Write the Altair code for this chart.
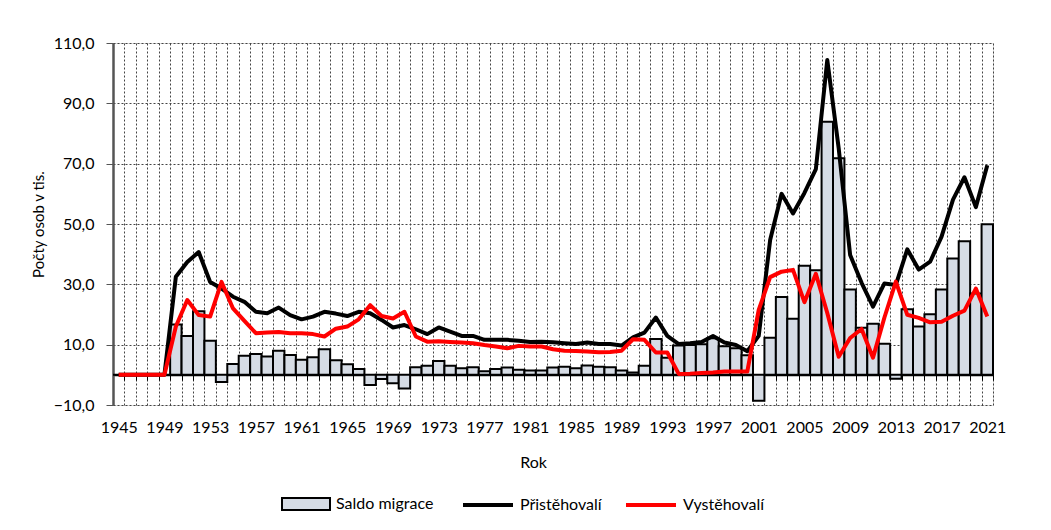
import altair as alt
import pandas as pd

years = list(range(1945, 2022))

saldo = [0, 0, 0, 0, 0,
         16.7, 12.9, 21.1, 11.3, -2.4, 3.6, 6.3, 6.9, 6.1, 8.0,
         6.6, 5.0, 5.8, 8.5, 4.8, 3.5, 1.9, -3.4, -1.4, -2.8,
         -4.5, 2.5, 3.0, 4.6, 3.0, 2.2, 2.5, 1.2, 1.9, 2.4,
         1.7, 1.4, 1.4, 2.4, 2.7, 2.2, 3.1, 2.7, 2.5, 1.4,
         0.8, 3.0, 11.9, 5.7, 9.7, 9.9, 10.1, 12.1, 9.5, 8.8,
         6.5, -8.6, 12.3, 25.8, 18.6, 36.2, 34.7, 83.9, 71.8, 28.3,
         15.6, 16.9, 10.3, -1.3, 21.7, 16.0, 20.1, 28.3, 38.6, 44.3,
         27.0, 49.9]

prist = [0, 0, 0, 0, 0,
         32.5, 37.4, 40.7, 30.8, 28.6, 25.9, 24.2, 20.9, 20.4, 22.3,
         19.8, 18.4, 19.3, 20.9, 20.3, 19.5, 20.9, 20.4, 18.2, 15.7,
         16.5, 15.1, 13.5, 15.7, 14.3, 12.9, 12.9, 11.6, 11.6, 11.6,
         11.3, 10.9, 11.0, 10.8, 10.5, 10.2, 10.7, 10.2, 10.2, 9.7,
         12.4, 14.0, 19.0, 12.9, 10.2, 10.5, 10.9, 12.9, 10.7, 9.9,
         7.8, 12.9, 44.7, 60.0, 53.5, 60.3, 68.2, 104.4, 75.0, 39.7,
         30.5, 22.6, 30.3, 29.8, 41.6, 34.9, 37.5, 45.8, 58.1, 65.5,
         55.6, 69.5]

vyst = [0, 0, 0, 0, 0,
        16.0, 24.8, 19.8, 19.3, 30.8, 22.0, 17.9, 13.8, 14.0, 14.2,
        13.8, 13.8, 13.5, 12.7, 15.3, 16.0, 18.4, 23.1, 19.5, 18.7,
        20.9, 12.7, 11.0, 11.1, 10.9, 10.7, 10.5, 9.9, 9.4, 8.8,
        9.6, 9.4, 9.4, 8.5, 8.0, 7.9, 7.7, 7.5, 7.6, 8.0,
        11.8, 11.6, 7.4, 7.4, 0.3, 0.4, 0.6, 0.8, 1.1, 1.1,
        1.1, 21.5, 32.4, 34.2, 34.8, 24.1, 33.5, 20.5, 6.0, 12.2,
        15.2, 5.7, 19.0, 30.9, 19.9, 18.9, 17.4, 17.6, 19.6, 21.3,
        28.6, 19.3]

series_names = ["Saldo migrace", "Přistěhovalí", "Vystěhovalí"]
y_ticks = [-10, 10, 30, 50, 70, 90, 110]
label_years = years[::4]

assert len(saldo) == len(years) == len(prist) == len(vyst)

df = pd.DataFrame({"rok": years, "saldo": saldo, "prist": prist, "vyst": vyst})

FONT = "Lato"
GRID = "#444444"
boundaries = [y - 0.5 for y in years] + [years[-1] + 0.5]

xscale = alt.Scale(domain=[years[0] - 0.5, years[-1] + 0.5], nice=False, zero=False)
yscale = alt.Scale(domain=[y_ticks[0], y_ticks[-1]], nice=False, zero=False)

yaxis = alt.Axis(
    values=y_ticks,
    labelExpr="replace(format(datum.value, '.1f'), '.', ',')",
    grid=True, gridColor=GRID, gridDash=[2, 2], gridWidth=1,
    domain=True, domainColor="#555555", domainWidth=2.5,
    ticks=True, tickSize=7, tickColor="#555555", tickWidth=1,
    labelPadding=12, labelFontSize=16, labelFont=FONT, labelColor="black",
    title="Počty osob v tis.", titleFont=FONT, titleFontSize=15,
    titleFontWeight="normal", titleColor="black",
    titleX=-75, titleY=181, titleAlign="center", titleBaseline="middle",
    titleAngle=270,
)

base = alt.Chart(df)

bars = base.transform_calculate(
    x0="datum.rok - 0.5", x1="datum.rok + 0.5", serie="'Saldo migrace'"
).mark_bar(stroke="black", strokeWidth=2).encode(
    x=alt.X("x0:Q", scale=xscale, axis=alt.Axis(
        orient="bottom", values=label_years, format="d", grid=False,
        ticks=False, tickSize=0, domain=False, labelPadding=14,
        labelFontSize=16, labelFont=FONT, labelColor="black",
        labelFlush=False, labelOverlap=False,
        title="Rok", titleFont=FONT, titleFontSize=16, titleFontWeight="normal",
        titleColor="black", titleX=420, titleY=57, titleBaseline="middle",
        titleAlign="center")),
    x2="x1:Q",
    y=alt.Y("saldo:Q", scale=yscale, axis=yaxis, stack=None),
    y2=alt.datum(0),
    fill=alt.Fill("serie:N", scale=alt.Scale(domain=series_names[:1], range=["#d6dce5"]),
                  legend=alt.Legend(
                      orient="none", legendX=180, legendY=448, direction="horizontal",
                      title=None, padding=0,
                      symbolType="M-2,-0.5H2V0.5H-2Z", symbolSize=576,
                      symbolStrokeColor="black", symbolStrokeWidth=2,
                      symbolFillColor="#d6dce5",
                      labelOffset=17, labelFontSize=16, labelFont=FONT,
                      labelColor="black")),
)

stroke_enc = alt.Stroke(
    "serie:N",
    scale=alt.Scale(domain=series_names[1:], range=["black", "#ff0000"]),
    legend=alt.Legend(
        orient="none", legendX=348, legendY=435, direction="horizontal",
        title=None, padding=0, symbolType="stroke", symbolSize=2500,
        symbolStrokeWidth=4, labelOffset=5, columnPadding=16,
        labelFontSize=16, labelFont=FONT, labelColor="black"),
)

line_p = base.transform_calculate(serie="'Přistěhovalí'").mark_line(
    strokeWidth=4, strokeJoin="round").encode(
    x=alt.X("rok:Q", scale=xscale, axis=alt.Axis(
        orient="bottom", values=boundaries, labels=False, ticks=False,
        domain=False, grid=True, gridColor=GRID, gridDash=[2, 2],
        gridWidth=1, title=None)),
    y=alt.Y("prist:Q", scale=yscale, axis=yaxis),
    stroke=stroke_enc,
)

line_v = base.transform_calculate(serie="'Vystěhovalí'").mark_line(
    strokeWidth=4, strokeJoin="round").encode(
    x=alt.X("rok:Q", scale=xscale, axis=alt.Axis(
        orient="bottom", offset=-30, values=boundaries, labels=False,
        ticks=True, tickSize=5, tickColor="black", tickWidth=1,
        domain=True, domainColor="black", domainWidth=1.5, grid=False,
        title=None)),
    y=alt.Y("vyst:Q", scale=yscale, axis=yaxis),
    stroke=stroke_enc,
)

chart = alt.layer(bars, line_p, line_v).resolve_axis(x="independent").properties(
    width=880, height=362,
    autosize=alt.AutoSizeParams(type="none"),
    padding={"left": 105, "top": 35, "right": 50, "bottom": 115},
    background="white",
).configure_view(stroke="#8c8c8c", strokeWidth=2.5).configure(font=FONT)

chart.save("out.html", embed_options={"renderer": "svg", "actions": False})
